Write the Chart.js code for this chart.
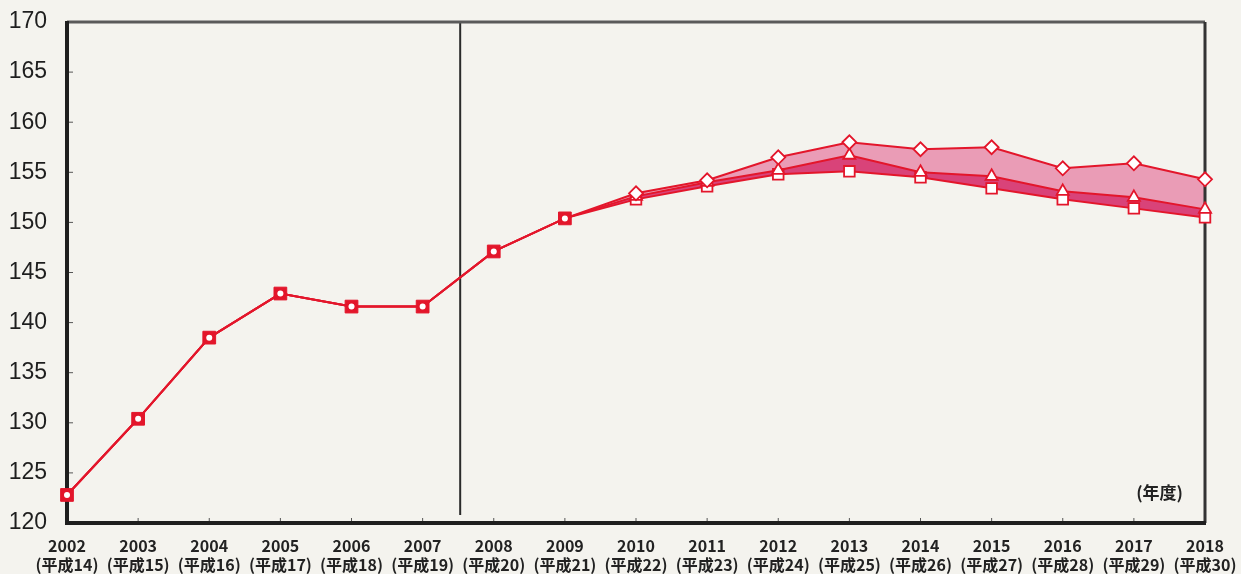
<!DOCTYPE html>
<html>
<head>
<meta charset="utf-8">
<script src="https://cdn.jsdelivr.net/npm/chart.js@4"></script>
<style>
  html, body { margin: 0; padding: 0; background: #f4f3ee; }
  #wrap { width: 1241px; height: 574px; position: relative; }
</style>
</head>
<body>
<div id="wrap"><canvas id="chart"></canvas></div>
<script>
// ===============================
// DATA
// ===============================

const years = ["2002", "2003", "2004", "2005", "2006", "2007", "2008", "2009", "2010",
  "2011", "2012", "2013", "2014", "2015", "2016", "2017", "2018"];
const eras = ["(平成14)", "(平成15)", "(平成16)", "(平成17)", "(平成18)", "(平成19)", "(平成20)",
  "(平成21)", "(平成22)", "(平成23)", "(平成24)", "(平成25)", "(平成26)", "(平成27)",
  "(平成28)", "(平成29)", "(平成30)"];

// upper (diamond), middle (triangle), lower (square)
const upperValues = [122.8, 130.4, 138.5, 142.9, 141.6, 141.6, 147.1, 150.4, 152.9,
  154.2, 156.5, 158.0, 157.3, 157.5, 155.4, 155.9, 154.3];
const middleValues = [122.8, 130.4, 138.5, 142.9, 141.6, 141.6, 147.1, 150.4, 152.6,
  154.0, 155.2, 156.7, 155.0, 154.6, 153.1, 152.5, 151.3];
const lowerValues = [122.8, 130.4, 138.5, 142.9, 141.6, 141.6, 147.1, 150.4, 152.3,
  153.6, 154.8, 155.1, 154.5, 153.4, 152.3, 151.4, 150.5];

const yTicks = [120, 125, 130, 135, 140, 145, 150, 155, 160, 165, 170];
const splitIndex = 8; // series separate from 2010

// ===============================
// STYLE
// ===============================

const RED = "#e3162b";
const BG = "#f4f3ee";

function early(ctx) { return ctx.dataIndex < splitIndex; }

// ===============================
// PLUGINS
// ===============================

const paper = {
  id: "paper",
  beforeDraw(chart) {
    const c = chart.ctx;
    c.save();
    c.fillStyle = BG;
    c.fillRect(0, 0, chart.width, chart.height);
    c.restore();
  }
};

const frame = {
  id: "frame",
  beforeDatasetsDraw(chart) {
    const c = chart.ctx;
    const a = chart.chartArea;
    const x = chart.scales.x;
    const y = chart.scales.y;
    c.save();

    // small inward ticks
    c.strokeStyle = "#555";
    c.lineWidth = 1;
    yTicks.forEach(v => {
      const py = y.getPixelForValue(v);
      c.beginPath();
      c.moveTo(a.left, py);
      c.lineTo(a.left + 6, py);
      c.stroke();
    });
    years.forEach((_, i) => {
      const px = x.getPixelForValue(i);
      c.beginPath();
      c.moveTo(px, a.bottom);
      c.lineTo(px, a.bottom - 5);
      c.stroke();
    });

    // divider between 2007 and 2008
    const mid = (x.getPixelForValue(5) + x.getPixelForValue(6)) / 2 + 2;
    c.strokeStyle = "#2a2a2a";
    c.lineWidth = 2;
    c.beginPath();
    c.moveTo(mid, a.top);
    c.lineTo(mid, a.bottom - 8);
    c.stroke();

    // frame
    c.strokeStyle = "#5a5a5a";
    c.lineWidth = 3;
    c.beginPath();
    c.moveTo(a.left, a.top);
    c.lineTo(a.right, a.top);
    c.stroke();
    c.strokeStyle = "#333";
    c.beginPath();
    c.moveTo(a.right, a.top);
    c.lineTo(a.right, a.bottom);
    c.stroke();
    c.strokeStyle = "#1e1e1e";
    c.lineWidth = 4;
    c.beginPath();
    c.moveTo(a.left, a.top - 1);
    c.lineTo(a.left, a.bottom);
    c.lineTo(a.right + 1, a.bottom);
    c.stroke();

    // unit label
    c.fillStyle = "#222";
    c.font = "bold 17px 'Noto Sans CJK JP'";
    c.textAlign = "right";
    c.textBaseline = "middle";
    c.fillText("(年度)", a.right - 22, a.bottom - 30);
    c.restore();
  }
};

// ===============================
// CHART
// ===============================

new Chart(document.getElementById("chart"), {
  type: "line",
  data: {
    labels: years.map((y, i) => [y, eras[i]]),
    datasets: [
      {
        label: "upper",
        data: upperValues,
        borderColor: RED,
        borderWidth: 2,
        backgroundColor: "rgba(232, 140, 172, 0.85)",
        fill: "+1",
        pointStyle: ctx => early(ctx) ? "circle" : "rectRot",
        pointRadius: ctx => early(ctx) ? 3 : 7,
        pointBorderWidth: ctx => early(ctx) ? 0 : 1.8,
        pointBackgroundColor: "#fff",
        pointBorderColor: RED,
        tension: 0
      },
      {
        label: "middle",
        data: middleValues,
        borderColor: RED,
        borderWidth: 2,
        backgroundColor: "rgba(214, 48, 108, 0.9)",
        fill: "+1",
        pointStyle: "triangle",
        pointRadius: ctx => early(ctx) ? 0 : 7,
        pointBorderWidth: 1.8,
        pointBackgroundColor: "#fff",
        pointBorderColor: RED,
        tension: 0
      },
      {
        label: "lower",
        data: lowerValues,
        borderColor: RED,
        borderWidth: 2,
        fill: false,
        pointStyle: "rect",
        pointRadius: ctx => early(ctx) ? 9 : 7.5,
        pointBorderWidth: ctx => early(ctx) ? 1 : 1.8,
        pointBackgroundColor: ctx => early(ctx) ? RED : "#fff",
        pointBorderColor: RED,
        tension: 0
      }
    ]
  },
  options: {
    responsive: true,
    maintainAspectRatio: false,
    animation: false,
    layout: { padding: { top: 22, right: 36, left: 0, bottom: 0 } },
    plugins: {
      legend: { display: false },
      tooltip: { enabled: false },
      filler: { drawTime: "beforeDatasetsDraw" }
    },
    scales: {
      x: {
        type: "category",
        offset: false,
        grid: { display: false },
        border: { display: false },
        afterFit: s => { s.height = 51; s.paddingLeft = 0; s.paddingRight = 0; },
        ticks: {
          color: "#222",
          font: { family: "'Noto Sans CJK JP'", size: 16, weight: "bold", lineHeight: 1.2 },
          padding: 5,
          maxRotation: 0,
          autoSkip: false
        }
      },
      y: {
        min: 120,
        max: 170,
        grid: { display: false },
        border: { display: false },
        afterFit: s => { s.width = 67; s.paddingTop = 0; s.paddingBottom = 0; },
        afterBuildTicks: s => { s.ticks = yTicks.map(v => ({ value: v })); },
        ticks: {
          color: "#1e1e1e",
          font: { family: "'Liberation Sans'", size: 23 },
          padding: 12
        }
      }
    }
  },
  plugins: [paper, frame]
});
</script>
</body>
</html>
